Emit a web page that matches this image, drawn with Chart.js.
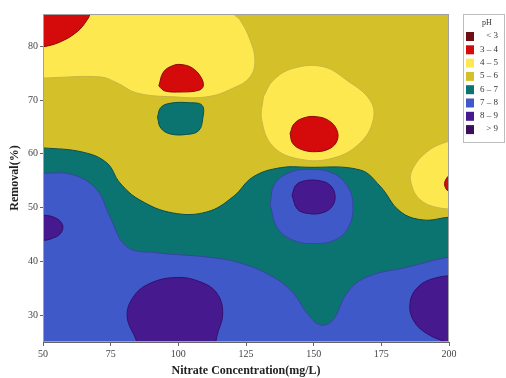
<!DOCTYPE html>
<html>
<head>
<meta charset="utf-8">
<script src="https://cdn.jsdelivr.net/npm/chart.js@4/dist/chart.umd.min.js"></script>
<style>
  html, body { margin: 0; padding: 0; background: #fff; }
  canvas { display: block; }
</style>
</head>
<body>
<canvas id="contour" width="506" height="378"></canvas>
<script>
// pH classes shown in the legend
const phBins = ['< 3', '3 – 4', '4 – 5', '5 – 6', '6 – 7', '7 – 8', '8 – 9', '> 9'];
const xTicks = [50, 75, 100, 125, 150, 175, 200];
const yTicks = [30, 40, 50, 60, 70, 80];

// contour outlines, [nitrate mg/L, removal %]
// regions that run to the plot edges continue a little beyond them
const tealBelow = [[45, 61.1], [50, 61.1], [64.8, 60.3], [73.6, 58.3], [78.4, 54.6], [85.8, 51.4], [98, 49.0], [110.6, 49.2], [120.2, 52.0], [127.6, 55.7], [137.6, 57.4], [147.5, 57.5], [167.1, 57.0], [174.5, 54.0], [181.9, 49.3], [190.4, 47.7], [200, 48.2], [205, 48.2], [205, 15], [45, 15]];
const blueBelow = [[45, 56.4], [50, 56.4], [61.1, 56.1], [69.9, 53.3], [74.8, 48.2], [81, 42.7], [92.1, 41.6], [110.6, 40.8], [122.8, 39.7], [135, 37.1], [142.4, 34.1], [147.5, 30.4], [152.3, 28.2], [157.1, 29.1], [162.3, 34.1], [169.7, 37.1], [184.5, 38.9], [200, 40.8], [205, 40.8], [205, 15], [45, 15]];
const blueRing150 = [[133.9, 50.5], [135.5, 54.3], [141, 56.5], [149, 57.1], [157, 56.4], [162.5, 54], [164.5, 50.5], [163, 46.5], [158, 44], [150, 43.3], [142, 44], [136.5, 46.3], [133.9, 50.5]];
const purple150 = [[142, 52.3], [143.5, 54.2], [147, 55.0], [152, 55.0], [156, 54.2], [157.9, 52.3], [156.8, 50.2], [153, 49.0], [148, 48.9], [144, 49.7], [142, 52.3]];
const purpleLeft = [[45, 48.6], [50, 48.6], [54.5, 48.1], [57.2, 46.8], [56.5, 45.2], [53, 44.2], [50, 43.9], [45, 43.9]];
const purple100 = [[86, 22], [84.6, 25.1], [81.1, 29.7], [83.4, 33.4], [89.5, 35.9], [99.4, 37.0], [108, 36.2], [114.2, 34.1], [116.4, 30.3], [114.2, 26.0], [113, 22]];
const purpleRight = [[205, 37.6], [194.2, 36.8], [188.1, 35.0], [185.6, 32.2], [186.8, 29.1], [191.7, 26.6], [200, 24.8], [205, 24]];
const yellowTop = [[45, 74.1], [50, 74.1], [71.1, 74.3], [77.3, 73.2], [84.7, 71.3], [98, 70.6], [110.6, 70.6], [120.2, 72.2], [126.5, 74.3], [128.3, 77.4], [126.5, 81.2], [122.8, 84.9], [120.2, 86.2], [119, 90], [45, 90]];
const redTopLeft = [[45, 79.8], [50, 79.9], [56.3, 80.8], [62.6, 82.7], [66.3, 84.9], [67.4, 86.2], [68, 90], [45, 90]];
const red100 = [[92.8, 72.6], [94.5, 75.2], [98, 76.4], [101, 76.6], [105, 76.0], [108.3, 74.3], [109.2, 72.6], [107.5, 71.8], [101, 71.5], [95, 71.7], [92.8, 72.6]];
const teal100 = [[92.3, 66.8], [93.5, 68.6], [97, 69.4], [104, 69.5], [108.8, 69.0], [109, 66.5], [107.5, 64.3], [103, 63.6], [97, 63.7], [93.5, 64.8], [92.3, 66.8]];
const yellow150 = [[131.4, 70.6], [135.1, 73.7], [142.5, 75.9], [153.5, 76.2], [162.2, 73.7], [170.8, 70.0], [172.0, 66.3], [167.1, 62.0], [157.2, 59.2], [144.9, 59.0], [135.1, 61.3], [130.8, 66.3], [131.4, 70.6]];
const red150 = [[141.3, 63.8], [142.8, 65.6], [146.5, 66.7], [151, 66.9], [155.5, 66.2], [158.5, 64.5], [158.7, 62.5], [156, 61.0], [151, 60.4], [145.5, 60.8], [142.2, 62.0], [141.3, 63.8]];
const yellowRight = [[205, 62.5], [199.1, 62.2], [191.7, 60.3], [186.4, 57.0], [186.0, 54.5], [189.5, 51.4], [196.7, 49.9], [205, 49.8]];
const redRight = [[205, 56.6], [201.5, 56.4], [198.8, 55.2], [198.6, 53.8], [200.5, 52.9], [205, 52.8]];

const binColors = ['#6e0f12', '#d50a0a', '#fde84f', '#d4c12a', '#0c7470', '#4059c8', '#46198f', '#3c0f5e'];
const edgeColors = ['#4a0a0a', '#8a0a0a', '#c9b640', '#b5a424', '#0a4f4c', '#34479e', '#33106a', '#2a0a44'];

// paint order, back to front: [outline, pH class index]
const layers = [
  [tealBelow, 4], [blueBelow, 5], [blueRing150, 5], [purple150, 6], [purpleLeft, 6],
  [purple100, 6], [purpleRight, 6], [yellowTop, 2], [redTopLeft, 1], [red100, 1],
  [teal100, 4], [yellow150, 2], [red150, 1], [yellowRight, 2], [redRight, 1]
];

const datasets = layers.map(([pts, k], i) => ({
  data: pts.map(([x, y]) => ({ x, y })),
  showLine: true,
  fill: 'shape',
  tension: 0.4,
  backgroundColor: binColors[k],
  borderColor: edgeColors[k],
  borderWidth: 1,
  pointRadius: 0,
  order: layers.length - i
}));

const serif = "'Liberation Serif', 'DejaVu Serif', serif";

const plotBackground = {
  id: 'plotBackground',
  beforeDatasetsDraw(chart) {
    const { ctx, chartArea: a } = chart;
    ctx.save();
    ctx.fillStyle = binColors[3];
    ctx.fillRect(a.left, a.top, a.right - a.left, a.bottom - a.top);
    ctx.restore();
  },
  afterDatasetsDraw(chart) {
    const { ctx, chartArea: a } = chart;
    ctx.save();
    ctx.strokeStyle = '#a0a0a0';
    ctx.lineWidth = 1;
    ctx.strokeRect(a.left + 0.5, a.top + 0.5, a.right - a.left - 1, a.bottom - a.top - 1);
    ctx.restore();
  }
};

const phLegend = {
  id: 'phLegend',
  afterDraw(chart) {
    const ctx = chart.ctx;
    ctx.save();
    ctx.strokeStyle = '#bdbdbd';
    ctx.lineWidth = 1;
    ctx.strokeRect(463.5, 14.5, 41, 128);
    ctx.fillStyle = '#333';
    ctx.font = '8px ' + serif;
    ctx.textAlign = 'center';
    ctx.textBaseline = 'middle';
    ctx.fillText('pH', 487, 23);
    ctx.font = '9px ' + serif;
    phBins.forEach((label, i) => {
      const y = 36 + i * 13.3;
      ctx.fillStyle = binColors[i];
      ctx.fillRect(466, y - 4, 8, 9);
      ctx.fillStyle = '#333';
      ctx.textAlign = 'right';
      ctx.fillText(label, 498, y);
    });
    ctx.restore();
  }
};

new Chart(document.getElementById('contour'), {
  type: 'scatter',
  data: { datasets },
  options: {
    responsive: false,
    animation: false,
    devicePixelRatio: 1,
    layout: { padding: { top: 14, right: 57, left: 0, bottom: 0 } },
    plugins: { legend: { display: false }, tooltip: { enabled: false } },
    scales: {
      x: {
        type: 'linear', min: 50, max: 200,
        afterBuildTicks: s => { s.ticks = xTicks.map(v => ({ value: v })); },
        afterFit: s => { s.height = 36; },
        grid: { drawOnChartArea: false, tickLength: 4, color: '#666' },
        border: { color: '#666' },
        ticks: { color: '#444', padding: 2, font: { family: serif, size: 10 } },
        title: { display: true, text: 'Nitrate Concentration(mg/L)', color: '#222', padding: { top: 0, bottom: 0 }, font: { family: serif, size: 12, weight: 'bold' } }
      },
      y: {
        type: 'linear', min: 25, max: 86,
        afterBuildTicks: s => { s.ticks = yTicks.map(v => ({ value: v })); },
        afterFit: s => { s.width = 43; },
        grid: { drawOnChartArea: false, tickLength: 3, color: '#666' },
        border: { color: '#666' },
        ticks: { color: '#444', padding: 2, font: { family: serif, size: 10 } },
        title: { display: true, text: 'Removal(%)', color: '#222', padding: { top: 8, bottom: 8 }, font: { family: serif, size: 12, weight: 'bold' } }
      }
    }
  },
  plugins: [plotBackground, phLegend]
});
</script>
</body>
</html>
